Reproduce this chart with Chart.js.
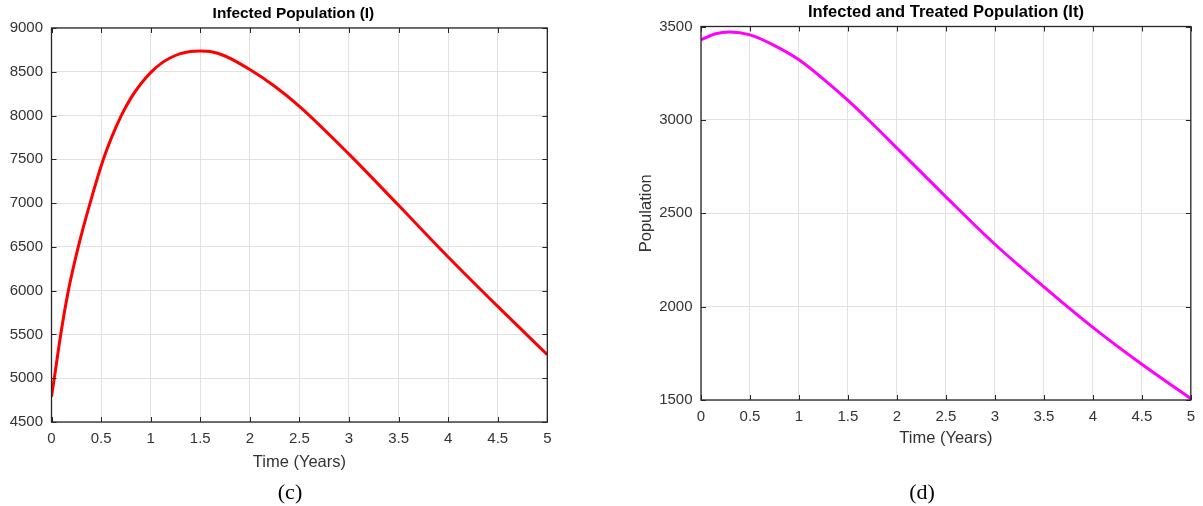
<!DOCTYPE html>
<html>
<head>
<meta charset="utf-8">
<script src="https://cdn.jsdelivr.net/npm/chart.js@4.4.1/dist/chart.umd.min.js"></script>
<style>
  html, body { margin: 0; padding: 0; background: #ffffff; }
  body { width: 1203px; height: 506px; position: relative; overflow: hidden; }
  .panel { position: absolute; top: 0; }
  .caption { position: absolute; font-family: "Liberation Serif", "Times New Roman", serif; font-size: 22px; color: #000; transform: translate(-50%, -50%); }
</style>
</head>
<body>
<div class="panel" style="left:0px"><canvas id="chartI" width="600" height="506"></canvas></div>
<div class="panel" style="left:600px"><canvas id="chartIt" width="603" height="506"></canvas></div>
<div class="caption" style="left:290px; top:492px;">(c)</div>
<div class="caption" style="left:922px; top:492px;">(d)</div>
<script>
// Infected population I(t), time in years
const timeI = [0, 0.028, 0.093, 0.17, 0.27, 0.389, 0.523, 0.6, 0.7, 0.8, 0.9, 1.0, 1.1, 1.2, 1.3, 1.4, 1.5, 1.6, 1.75, 2.0, 2.25, 2.5, 3.0, 3.5, 4.0, 4.5, 5.0];
const infected = [4789, 5000, 5500, 6000, 6500, 7000, 7500, 7734, 7990, 8199, 8360, 8490, 8590, 8660, 8707, 8732, 8738, 8731, 8680, 8525, 8335, 8106, 7560, 6975, 6385, 5820, 5269];

// Infected and treated population It(t)
const timeIt = [0, 0.15, 0.294, 0.5, 0.75, 1.0, 1.25, 1.5, 1.75, 2.0, 2.5, 3.0, 3.5, 4.0, 4.5, 5.0];
const treated = [3429, 3461, 3470, 3455, 3398, 3322, 3218, 3104, 2979, 2849, 2588, 2334, 2106, 1889, 1691, 1507];

// Axis tick settings
const timeTicks = { min: 0, max: 5, step: 0.5 };
const infectedTicks = { min: 4500, max: 9000, step: 500 };
const treatedTicks = { min: 1500, max: 3500, step: 500 };

const AXIS_COLOR = '#262626';
const GRID_COLOR = '#e2e2e2';
const TEXT_COLOR = '#333333';
const SANS = '"Liberation Sans", Arial, Helvetica, sans-serif';

// Box frame with inward tick marks on all four sides
const boxFrame = {
  id: 'boxFrame',
  afterLayout(chart, args, opts) {
    // horizontal nudge of the title block
    const dx = opts.titleShift || 0;
    if (dx && chart.titleBlock) {
      chart.titleBlock.left += dx;
      chart.titleBlock.right += dx;
    }
  },
  afterDraw(chart) {
    const { ctx, chartArea: a, scales } = chart;
    const len = 5;
    ctx.save();
    ctx.strokeStyle = AXIS_COLOR;
    ctx.lineWidth = 1;
    ctx.beginPath();
    scales.x.ticks.forEach(t => {
      const px = Math.round(scales.x.getPixelForValue(t.value)) + 0.5;
      ctx.moveTo(px, a.bottom); ctx.lineTo(px, a.bottom - len);
      ctx.moveTo(px, a.top); ctx.lineTo(px, a.top + len);
    });
    scales.y.ticks.forEach(t => {
      const py = Math.round(scales.y.getPixelForValue(t.value)) + 0.5;
      ctx.moveTo(a.left, py); ctx.lineTo(a.left + len, py);
      ctx.moveTo(a.right, py); ctx.lineTo(a.right - len, py);
    });
    ctx.stroke();
    ctx.lineWidth = 1.3;
    ctx.strokeRect(a.left, a.top, a.right - a.left, a.bottom - a.top);
    ctx.restore();
  }
};

function makeChart(id, xs, ys, color, title, yRange, box) {
  const points = xs.map((x, i) => ({ x, y: ys[i] }));
  return new Chart(document.getElementById(id), {
    type: 'line',
    data: {
      datasets: [{
        data: points,
        borderColor: color,
        borderWidth: 3,
        pointRadius: 0,
        fill: false,
        cubicInterpolationMode: 'monotone'
      }]
    },
    options: {
      responsive: false,
      animation: false,
      devicePixelRatio: 1,
      layout: { padding: { left: 0, right: box.padRight, top: 0, bottom: 0 } },
      plugins: {
        legend: { display: false },
        tooltip: { enabled: false },
        boxFrame: { titleShift: box.titleShift },
        title: {
          display: true,
          text: title,
          fullSize: false,
          color: '#000000',
          font: { family: SANS, size: box.titleSize, weight: 'bold' },
          padding: { top: box.titleTop, bottom: box.titleBottom }
        }
      },
      scales: {
        x: {
          type: 'linear',
          min: timeTicks.min,
          max: timeTicks.max,
          afterFit: s => { s.height = box.xHeight; },
          afterBuildTicks: s => {
            const t = [];
            for (let v = timeTicks.min; v <= timeTicks.max + 1e-9; v += timeTicks.step) t.push({ value: +v.toFixed(2) });
            s.ticks = t;
          },
          grid: { color: GRID_COLOR, drawTicks: false, lineWidth: 1 },
          border: { display: false },
          ticks: {
            color: TEXT_COLOR,
            font: { family: SANS, size: 15 },
            padding: box.xTickPad,
            maxRotation: 0,
            autoSkip: false,
            callback: v => String(v)
          },
          title: {
            display: true,
            text: 'Time (Years)',
            color: TEXT_COLOR,
            font: { family: SANS, size: 16.5 },
            padding: { top: 0, bottom: box.xTitleBottom }
          }
        },
        y: {
          type: 'linear',
          min: yRange.min,
          max: yRange.max,
          afterFit: s => { s.width = box.yWidth; },
          afterBuildTicks: s => {
            const t = [];
            for (let v = yRange.min; v <= yRange.max; v += yRange.step) t.push({ value: v });
            s.ticks = t;
          },
          grid: { color: GRID_COLOR, drawTicks: false, lineWidth: 1 },
          border: { display: false },
          ticks: {
            color: TEXT_COLOR,
            font: { family: SANS, size: 15 },
            padding: 8.5,
            autoSkip: false,
            callback: v => String(v)
          },
          title: {
            display: box.yTitle,
            text: 'Population',
            color: TEXT_COLOR,
            font: { family: SANS, size: 16.5 },
            padding: { top: box.yTitleTop, bottom: 0 }
          }
        }
      }
    },
    plugins: [boxFrame]
  });
}

makeChart('chartI', timeI, infected, '#ff0000', 'Infected Population (I)', infectedTicks, {
  padRight: 52.7, yWidth: 51.5, xHeight: 84, titleTop: 5, titleBottom: 4.5, titleSize: 15.4, titleShift: -6,
  xTickPad: 8, xTitleBottom: 34, yTitle: false, yTitleTop: 0
});

makeChart('chartIt', timeIt, treated, '#ff00ff', 'Infected and Treated Population (It)', treatedTicks, {
  padRight: 9.7, yWidth: 101, xHeight: 106, titleTop: 3, titleBottom: 3.7, titleSize: 16.5, titleShift: 0,
  xTickPad: 8, xTitleBottom: 58, yTitle: true, yTitleTop: 37
});
</script>
</body>
</html>
